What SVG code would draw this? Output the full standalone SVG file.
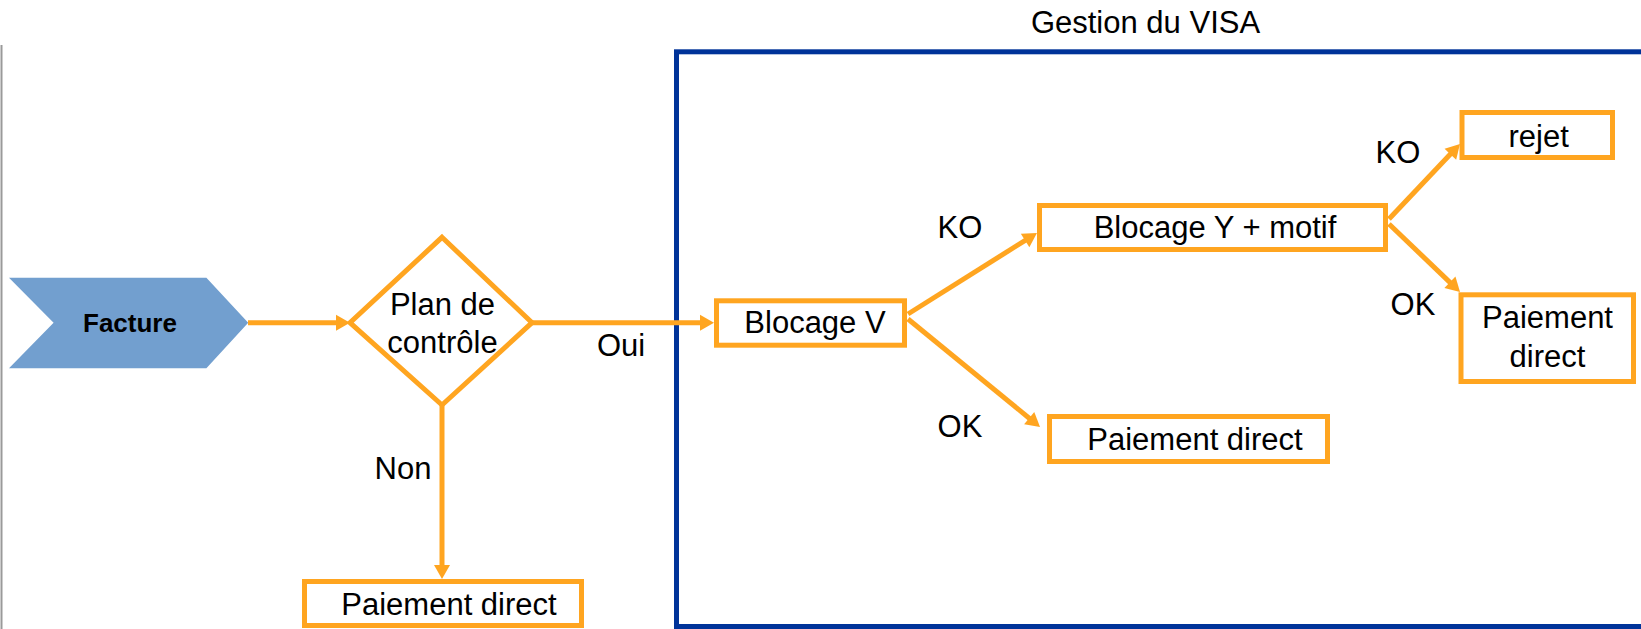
<svg xmlns="http://www.w3.org/2000/svg" width="1641" height="629" viewBox="0 0 1641 629">
<style>
text{font-family:"Liberation Sans",Arial,sans-serif;font-size:31px;fill:#000;text-anchor:middle}
.box{fill:#fff;stroke:#FFA520;stroke-width:5}
.con{fill:none;stroke:#FFA520;stroke-width:5}
</style>
<defs>
<marker id="ah" markerUnits="userSpaceOnUse" markerWidth="14" markerHeight="16" refX="4" refY="8" orient="auto" overflow="visible">
<path d="M0,0 L14,8 L0,16 z" fill="#FFA520"/>
</marker>
</defs>
<rect width="1641" height="629" fill="#fff"/>
<line x1="1.5" y1="45" x2="1.5" y2="629" stroke="#9a9a9a" stroke-width="2"/>
<g id="visa">
<rect x="676.5" y="51.8" width="1000" height="574.7" fill="none" stroke="#003399" stroke-width="5"/>
<text x="1145.5" y="33">Gestion du VISA</text>
</g>
<g id="connectors">
<line class="con" x1="248" y1="322.7" x2="340" y2="322.7" marker-end="url(#ah)"/>
<line class="con" x1="532" y1="322.7" x2="704" y2="322.7" marker-end="url(#ah)"/>
<line class="con" x1="442" y1="405" x2="442" y2="569" marker-end="url(#ah)"/>
<line class="con" x1="908" y1="314" x2="1028.5" y2="238.3" marker-end="url(#ah)"/>
<line class="con" x1="908" y1="319" x2="1032.3" y2="420.7" marker-end="url(#ah)"/>
<line class="con" x1="1389" y1="219" x2="1453.1" y2="151.3" marker-end="url(#ah)"/>
<line class="con" x1="1389" y1="224" x2="1452.8" y2="285.1" marker-end="url(#ah)"/>
<text x="621" y="356">Oui</text>
<text x="403" y="479">Non</text>
<text x="960" y="237.7">KO</text>
<text x="960" y="437">OK</text>
<text x="1398" y="162.7">KO</text>
<text x="1413" y="315">OK</text>
</g>
<g id="facture">
<polygon points="9,277.7 206.4,277.7 248.2,322.7 206.4,368.3 9,368.3 53.6,322.7" fill="#729FCF"/>
<text x="130" y="332" style="font-weight:bold;font-size:26px">Facture</text>
</g>
<g id="plan">
<polygon class="box" points="442,237.3 532,322.7 442,405 350,322.7"/>
<text x="442.5" y="315">Plan de</text>
<text x="442.5" y="353.3">contrôle</text>
</g>
<g id="blocageV">
<rect class="box" x="716.5" y="300.8" width="188" height="44.4"/>
<text x="815" y="333">Blocage V</text>
</g>
<g id="blocageY">
<rect class="box" x="1039.5" y="205.5" width="346" height="44"/>
<text x="1215" y="237.7">Blocage Y + motif</text>
</g>
<g id="rejet">
<rect class="box" x="1462" y="112.5" width="150.5" height="45"/>
<text x="1538.6" y="146.7">rejet</text>
</g>
<g id="paiement3">
<rect class="box" x="1461" y="294.8" width="172.5" height="86.7"/>
<text x="1547.5" y="328.3">Paiement</text>
<text x="1547.5" y="366.7">direct</text>
</g>
<g id="paiement2">
<rect class="box" x="1049.5" y="416.5" width="278" height="45"/>
<text x="1195" y="450">Paiement direct</text>
</g>
<g id="paiement1">
<rect class="box" x="304.5" y="581.5" width="277" height="44"/>
<text x="449" y="615">Paiement direct</text>
</g>
</svg>
